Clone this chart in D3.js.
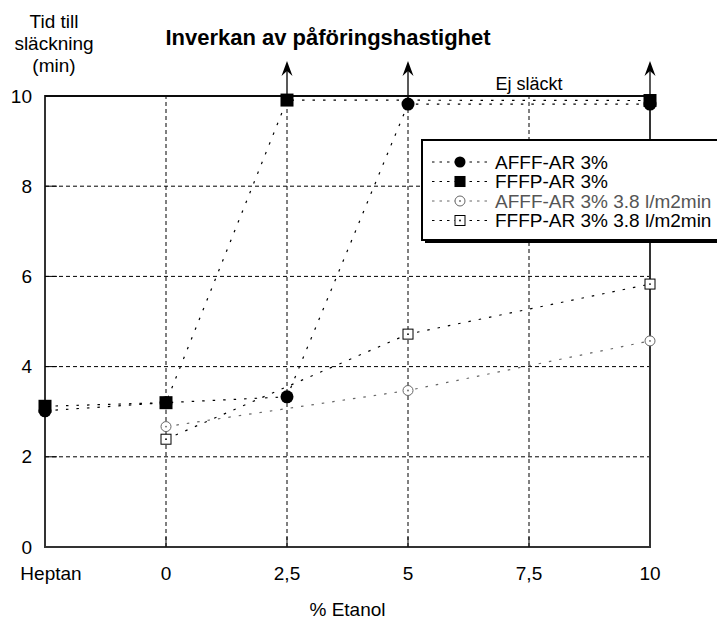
<!DOCTYPE html>
<html>
<head>
<meta charset="utf-8">
<script src="https://cdn.jsdelivr.net/npm/d3@7"></script>
<style>
  body { margin: 0; background: #fff; }
  svg { display: block; font-family: "Liberation Sans", Arial, sans-serif; }
</style>
</head>
<body>
<div id="chart"></div>
<script>
// x positions (Heptan sits one step left of 0 %)
const xValues = [-2.5, 0, 2.5, 5, 7.5, 10]
const xLabels = ['Heptan', '0', '2,5', '5', '7,5', '10']
const yTicks = [0, 2, 4, 6, 8, 10]

// time to extinction (min), null = not tested
const afff = [3.02, 3.2, 3.33, 9.82, null, 9.82]
const fffp = [3.12, 3.2, 9.91, null, null, 9.9]
const afff38 = [null, 2.67, null, 3.47, null, 4.57]
const fffp38 = [null, 2.39, null, 4.72, null, 5.83]

// ethanol levels where fire was not extinguished
const notExtinguished = [2.5, 5, 10]

const seriesNames = ['AFFF-AR 3%', 'FFFP-AR 3%', 'AFFF-AR 3% 3.8 l/m2min', 'FFFP-AR 3% 3.8 l/m2min']

const width = 717
const height = 622
const margin = { top: 96, right: 67, bottom: 75, left: 45 }

const svg = d3.select('#chart')
  .append('svg')
  .attr('width', width)
  .attr('height', height)

const x = d3.scaleLinear()
  .domain([-2.5, 10])
  .range([margin.left, width - margin.right])

const y = d3.scaleLinear()
  .domain([0, 10])
  .range([height - margin.bottom, margin.top])

const g = svg.append('g')

// grid
g.selectAll('.hgrid')
  .data(yTicks.filter(d => d > 0 && d < 10))
  .enter()
  .append('line')
  .attr('x1', x(-2.5))
  .attr('x2', x(10))
  .attr('y1', d => y(d))
  .attr('y2', d => y(d))
  .attr('stroke', '#000')
  .attr('stroke-dasharray', '4,3')

g.selectAll('.vgrid')
  .data(xValues.filter(d => d > -2.5 && d < 10))
  .enter()
  .append('line')
  .attr('x1', d => x(d))
  .attr('x2', d => x(d))
  .attr('y1', y(0))
  .attr('y2', y(10))
  .attr('stroke', '#000')
  .attr('stroke-dasharray', '4,3')

// frame
g.append('rect')
  .attr('x', x(-2.5))
  .attr('y', y(10))
  .attr('width', x(10) - x(-2.5))
  .attr('height', y(0) - y(10))
  .attr('fill', 'none')
  .attr('stroke', '#333')
  .attr('stroke-width', 2)

// small solid ticks
g.selectAll('.ytick')
  .data(yTicks.filter(d => d > 0 && d < 10))
  .enter()
  .append('line')
  .attr('x1', x(-2.5))
  .attr('x2', x(-2.5) + 12)
  .attr('y1', d => y(d))
  .attr('y2', d => y(d))
  .attr('stroke', '#000')
g.selectAll('.xtick')
  .data(xValues.filter(d => d > -2.5 && d < 10))
  .enter()
  .append('line')
  .attr('x1', d => x(d))
  .attr('x2', d => x(d))
  .attr('y1', y(0))
  .attr('y2', y(0) - 10)
  .attr('stroke', '#000')

// axis labels
g.selectAll('.ylab')
  .data(yTicks)
  .enter()
  .append('text')
  .attr('x', 32)
  .attr('y', d => y(d))
  .attr('dy', '0.35em')
  .attr('text-anchor', 'end')
  .attr('font-size', 19)
  .text(d => d)

g.selectAll('.xlab')
  .data(xValues)
  .enter()
  .append('text')
  .attr('x', (d, i) => x(d) + (i === 0 ? 6 : 0))
  .attr('y', 580)
  .attr('text-anchor', 'middle')
  .attr('font-size', 19)
  .text((d, i) => xLabels[i])

svg.append('text')
  .attr('x', (x(-2.5) + x(10)) / 2)
  .attr('y', 616)
  .attr('text-anchor', 'middle')
  .attr('font-size', 19)
  .text('% Etanol')

const yTitle = svg.append('text')
  .attr('text-anchor', 'middle')
  .attr('font-size', 19)
;['Tid till', 'släckning', '(min)'].forEach((t, i) => {
  yTitle.append('tspan').attr('x', 54).attr('y', 28 + i * 22).text(t)
})

svg.append('text')
  .attr('x', 328)
  .attr('y', 45)
  .attr('text-anchor', 'middle')
  .attr('font-size', 22)
  .attr('font-weight', 'bold')
  .text('Inverkan av påföringshastighet')

// series
const series = [
  { values: afff, color: '#000', shape: 'circle', filled: true },
  { values: fffp, color: '#000', shape: 'square', filled: true },
  { values: afff38, color: '#666', shape: 'circle', filled: false },
  { values: fffp38, color: '#000', shape: 'square', filled: false }
]

const line = d3.line()
  .x(d => x(d.x))
  .y(d => y(d.y))

series.forEach(s => {
  s.points = s.values
    .map((v, i) => ({ x: xValues[i], y: v }))
    .filter(d => d.y !== null)
  g.append('path')
    .datum(s.points)
    .attr('d', line)
    .attr('fill', 'none')
    .attr('stroke', s.color)
    .attr('stroke-width', 1.2)
    .attr('stroke-dasharray', '2.5,8')
})

// arrows for "not extinguished"
const arrowTop = 61
g.selectAll('.arrow')
  .data(notExtinguished)
  .enter()
  .append('line')
  .attr('x1', d => x(d))
  .attr('x2', d => x(d))
  .attr('y1', y(9.8))
  .attr('y2', arrowTop + 4)
  .attr('stroke', '#222')
  .attr('stroke-width', 1.5)
g.selectAll('.arrowhead')
  .data(notExtinguished)
  .enter()
  .append('path')
  .attr('d', d => `M${x(d)},${arrowTop} L${x(d) + 5.5},${arrowTop + 15} L${x(d)},${arrowTop + 10} L${x(d) - 5.5},${arrowTop + 15} Z`)
  .attr('fill', '#000')

g.append('line')
  .attr('x1', x(-2.5))
  .attr('x2', x(10))
  .attr('y1', y(10))
  .attr('y2', y(10))
  .attr('stroke', '#000')
  .attr('stroke-width', 1.5)

g.append('text')
  .attr('x', 529)
  .attr('y', 90)
  .attr('text-anchor', 'middle')
  .attr('font-size', 18)
  .text('Ej släckt')

function drawMarker(sel, s, cx, cy, scale) {
  const k = scale || 1
  if (s.filled) {
    if (s.shape === 'circle') {
      sel.append('circle').attr('cx', cx).attr('cy', cy).attr('r', 6.5 * k).attr('fill', s.color)
    } else {
      sel.append('rect').attr('x', cx - 6.5 * k).attr('y', cy - 6.5 * k)
        .attr('width', 13 * k).attr('height', 13 * k).attr('fill', s.color)
    }
  } else {
    if (s.shape === 'circle') {
      sel.append('circle').attr('cx', cx).attr('cy', cy).attr('r', 5 * k)
        .attr('fill', '#fff').attr('stroke', s.color).attr('stroke-width', 1)
    } else {
      sel.append('rect').attr('x', cx - 5 * k).attr('y', cy - 5 * k)
        .attr('width', 10 * k).attr('height', 10 * k)
        .attr('fill', '#fff').attr('stroke', s.color).attr('stroke-width', 1)
    }
    sel.append('circle').attr('cx', cx).attr('cy', cy).attr('r', 0.9).attr('fill', s.color)
  }
}

series.forEach(s => {
  s.points.forEach(p => drawMarker(g, s, x(p.x), y(p.y)))
})

// legend
const lg = svg.append('g')
const lx = 422
const ly = 140
lg.append('rect')
  .attr('x', lx + 3).attr('y', ly + 3)
  .attr('width', 320).attr('height', 100)
  .attr('fill', '#000')
lg.append('rect')
  .attr('x', lx).attr('y', ly)
  .attr('width', 320).attr('height', 100)
  .attr('fill', '#fff')
  .attr('stroke', '#000')
  .attr('stroke-width', 2)

series.forEach((s, i) => {
  const yy = ly + 22 + i * 19.5
  lg.append('line')
    .attr('x1', 432).attr('x2', 488)
    .attr('y1', yy).attr('y2', yy)
    .attr('stroke', s.color)
    .attr('stroke-dasharray', '2.5,5')
  drawMarker(lg, s, 460, yy, s.filled ? 0.85 : 1)
  lg.append('text')
    .attr('x', 495)
    .attr('y', yy)
    .attr('dy', '0.35em')
    .attr('font-size', 19)
    .attr('fill', s.color === '#000' ? '#000' : '#555')
    .text(seriesNames[i])
})
</script>
</body>
</html>
